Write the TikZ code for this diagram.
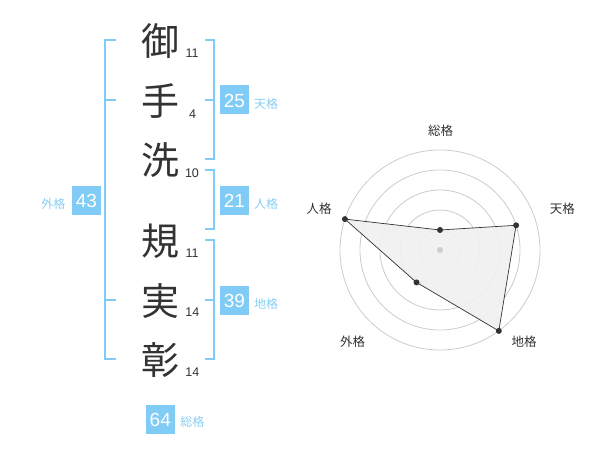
\documentclass[tikz,border=0pt]{standalone}
\usepackage{fontspec}
\setmainfont{Liberation Sans}
\newfontfamily\jp{Noto Sans CJK JP}
\definecolor{boxblue}{RGB}{128,204,246}
\definecolor{lblblue}{RGB}{135,208,245}
\definecolor{ink}{RGB}{51,51,51}
\definecolor{ringgray}{RGB}{204,204,204}
\begin{document}
\begin{tikzpicture}[x=1pt,y=-1pt,
 kanji/.style={font=\jp\fontsize{38}{38}\selectfont, text=ink, inner sep=0},
 strokes/.style={font=\fontsize{12.5}{13}\selectfont, text=ink, inner sep=0},
 numbox/.style={fill=boxblue, minimum width=29pt, minimum height=29pt, inner sep=0},
 numtxt/.style={text=white, font=\fontsize{19}{19}\selectfont, inner sep=0},
 gtext/.style={font=\jp\fontsize{12}{12}\selectfont, text=lblblue, inner sep=0},
 bracket/.style={draw=boxblue, line width=2pt},
 ringline/.style={draw=ringgray, line width=0.8pt},
 axislbl/.style={font=\jp\fontsize{12.5}{13}\selectfont, text=ink, inner sep=0},
 dot/.style={circle, fill=ink, inner sep=0, minimum size=6pt},
]
\useasboundingbox (0,0) rectangle (600,470);
\fill[white] (0,0) rectangle (600,470);

% kanji
\node[kanji] (k1) at (160,41) {御};
\node[kanji] (k2) at (160,101) {手};
\node[kanji] (k3) at (160,160) {洗};
\node[kanji] (k4) at (160,241) {規};
\node[kanji] (k5) at (160,301) {実};
\node[kanji] (k6) at (160,360) {彰};

% stroke counts
\node[strokes] (n1) at (192,53.3) {11};
\node[strokes] (n2) at (192.7,114) {4};
\node[strokes] (n3) at (192,172.7) {10};
\node[strokes] (n4) at (192,253.3) {11};
\node[strokes] (n5) at (192.3,312.7) {14};
\node[strokes] (n6) at (192.3,372.7) {14};

% brackets
\draw[bracket] (116,40) -- (105,40) -- (105,359) -- (116,359);
\draw[bracket] (105,100) -- (116,100);
\draw[bracket] (105,300) -- (116,300);
\draw[bracket] (205,40) -- (214,40) -- (214,159) -- (205,159);
\draw[bracket] (205,100) -- (214,100);
\draw[bracket] (205,170) -- (214,170) -- (214,229) -- (205,229);
\draw[bracket] (205,240) -- (214,240) -- (214,359) -- (205,359);
\draw[bracket] (205,300) -- (214,300);

% value boxes
\node[numbox] (b25) at (234.5,100) {};
\node[numtxt] (t25) at ([yshift=-1pt]b25.center) {25};
\node[gtext] (g25) at (266,104) {天格};
\node[numbox] (b21) at (234.5,200.3) {};
\node[numtxt] (t21) at ([yshift=-1pt]b21.center) {21};
\node[gtext] (g21) at (266,203.5) {人格};
\node[numbox] (b39) at (234.5,300.3) {};
\node[numtxt] (t39) at ([yshift=-1pt]b39.center) {39};
\node[gtext] (g39) at (266,304) {地格};
\node[numbox] (b43) at (86.5,200.3) {};
\node[numtxt] (t43) at ([yshift=-1pt]b43.center) {43};
\node[gtext] (g43) at (53.3,203.5) {外格};
\node[numbox] (b64) at (160.3,419) {};
\node[numtxt] (t64) at ([yshift=-1pt]b64.center) {64};
\node[gtext] (g64) at (192.3,422.3) {総格};

% radar chart
\coordinate (rc) at (440,250);
\foreach \r in {20,40,60,80,100} \draw[ringline] (rc) circle[radius=\r];
\coordinate (ps) at (440,230);
\coordinate (pt) at (516.1,225.3);
\coordinate (pc) at (498.8,330.9);
\coordinate (pg) at (416.5,282.4);
\coordinate (pj) at (344.9,219.1);
\fill[black!6, opacity=0.9] (ps) -- (pt) -- (pc) -- (pg) -- (pj) -- cycle;
\draw[ink, line width=0.7pt] (ps) -- (pt) -- (pc) -- (pg) -- (pj) -- cycle;
\fill[ringgray] (rc) circle[radius=3];
\foreach \p in {ps,pt,pc,pg,pj} \node[dot] at (\p) {};
\node[axislbl] (as) at (440.7,130.7) {総格};
\node[axislbl] (at) at (562.3,208.3) {天格};
\node[axislbl] (ac) at (524,341.7) {地格};
\node[axislbl] (ag) at (352.7,341.7) {外格};
\node[axislbl] (aj) at (319,208.3) {人格};
\end{tikzpicture}
\end{document}
